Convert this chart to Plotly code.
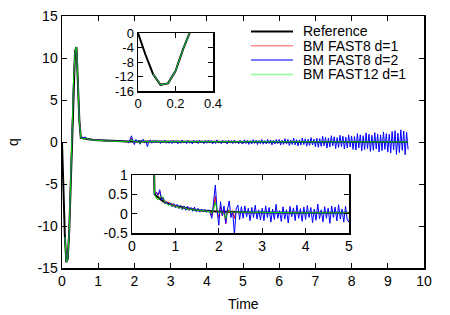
import plotly.graph_objects as go

# ---------------- data (sampled every DT in time, starting at t=0) ----------------
DT = 0.04
NAMES = ["Reference", "BM FAST8 d=1", "BM FAST8 d=2", "BM FAST12 d=1"]

REF_0 = [0, -6.0, -11.3, -14.3, -13.9, -10.5, -4.5, 1.8, 7.5, 10.8, 11.3, 7.0, 2.5, 0.50, 0.46,
         0.42, 0.38, 0.35, 0.32, 0.30, 0.28, 0.26, 0.24, 0.23, 0.21]
REF_1 = [0.20, 0.19, 0.18, 0.17, 0.16, 0.15, 0.14, 0.13, 0.12, 0.11, 0.105, 0.10, 0.095, 0.09, 0.085,
         0.08, 0.077, 0.074, 0.071, 0.068, 0.065, 0.062, 0.06, 0.058, 0.056]
REF_2 = [0.054, 0.052, 0.05, 0.049, 0.048, 0.047, 0.046, 0.045, 0.044, 0.043, 0.042, 0.041, 0.04, 0.039, 0.038,
         0.037, 0.036, 0.035, 0.034, 0.033, 0.032, 0.031, 0.03, 0.03, 0.03]
REF_3 = [0.03, 0.03, 0.03, 0.03, 0.03, 0.028, 0.028, 0.028, 0.028, 0.028, 0.026, 0.026, 0.026, 0.026, 0.026,
         0.025, 0.025, 0.025, 0.025, 0.025, 0.024, 0.024, 0.024, 0.024, 0.024]
REF_4 = [0.023, 0.023, 0.023, 0.023, 0.023, 0.022, 0.022, 0.022, 0.022, 0.022, 0.021, 0.021, 0.021, 0.021, 0.021,
         0.02, 0.02, 0.02, 0.02, 0.02, 0.02, 0.02, 0.02, 0.02, 0.02]
REF_5 = [0.019, 0.019, 0.019, 0.019, 0.019, 0.018, 0.018, 0.018, 0.018, 0.018, 0.017, 0.017, 0.017, 0.017, 0.017,
         0.016, 0.016, 0.016, 0.016, 0.016, 0.015, 0.015, 0.015, 0.015, 0.015]
REF_6 = [0.015, 0.015, 0.015, 0.015, 0.015, 0.014, 0.014, 0.014, 0.014, 0.014, 0.014, 0.014, 0.014, 0.014, 0.014,
         0.013, 0.013, 0.013, 0.013, 0.013, 0.013, 0.013, 0.013, 0.013, 0.013]
REF_7 = [0.012, 0.012, 0.012, 0.012, 0.012, 0.012, 0.012, 0.012, 0.012, 0.012, 0.012, 0.012, 0.012, 0.012, 0.012,
         0.011, 0.011, 0.011, 0.011, 0.011, 0.011, 0.011, 0.011, 0.011, 0.011]
REF_8 = [0.011, 0.011, 0.011, 0.011, 0.011, 0.011, 0.011, 0.011, 0.011, 0.011, 0.01, 0.01, 0.01, 0.01, 0.01,
         0.01, 0.01, 0.01, 0.01, 0.01, 0.01, 0.01, 0.01, 0.01, 0.01]
REF_9 = [0.01, 0.01, 0.01, 0.01, 0.01, 0.01, 0.01, 0.01, 0.01, 0.01, 0.01, 0.01, 0.01, 0.01, 0.01]

# BM FAST8 d=1 (red): first output at t=0.08; follows the reference after t~2.6
RED_0 = [None, None, -11.3, -14.3, -13.9, -10.5, -4.5, 1.8, 7.5, 10.8, 11.3, 7.0, 2.5, 0.50, 0.56,
         0.48, 0.55, 0.40, 0.36, 0.34, 0.29, 0.30, 0.24, 0.25, 0.20]
RED_1 = [0.22, 0.17, 0.19, 0.15, 0.17, 0.13, 0.15, 0.12, 0.13, 0.10, 0.12, 0.09, 0.10, 0.08, 0.09,
         0.07, 0.08, 0.06, 0.07, 0.05, 0.06, -0.05, 0.15, 0.45, 0.05]
RED_2 = [-0.10, 0.18, -0.05, 0.10, -0.26, 0.12, 0.06, -0.02, 0.08, -0.12, 0.06, 0.02, 0.05, 0.03, 0.04,
         0.037, 0.036, 0.035, 0.034, 0.033, 0.032, 0.031, 0.03, 0.03, 0.03]

# BM FAST8 d=2 (blue): noisy, growing oscillation
BLUE_0 = [None, None, -11.3, -14.3, -13.9, -10.5, -4.5, 1.8, 7.5, 10.8, 11.3, 7.0, 2.5, 0.50, 0.55,
          0.48, 0.62, 0.35, 0.42, 0.25, 0.30, 0.22, 0.28, 0.18, 0.26]
BLUE_1 = [0.15, 0.24, 0.13, 0.22, 0.10, 0.20, 0.09, 0.19, 0.08, 0.16, 0.06, 0.17, 0.05, 0.14, 0.04,
          0.12, 0.05, 0.11, 0.03, 0.10, 0.02, -0.12, 0.30, 0.74, 0.10]
BLUE_2 = [-0.30, 0.31, -0.05, 0.20, -0.25, 0.10, 0.33, -0.10, 0.05, -0.55, 0.12, 0.22, -0.15, 0.18, -0.12,
          0.20, -0.08, 0.14, -0.18, 0.16, -0.10, 0.22, -0.14, 0.10, -0.16]
BLUE_3 = [0.14, -0.18, 0.20, -0.10, 0.16, -0.22, 0.12, -0.15, 0.24, -0.12, 0.08, -0.20, 0.18, -0.14, 0.10,
          -0.24, 0.19, -0.08, 0.15, -0.18, 0.22, -0.12, 0.13, -0.20, 0.17]
BLUE_4 = [-0.15, 0.21, -0.10, 0.16, -0.23, 0.12, -0.17, 0.25, -0.13, 0.10, -0.21, 0.18, -0.12, 0.14, -0.25,
          0.20, -0.10, 0.17, -0.19, 0.23, -0.14, 0.12, -0.22, 0.19, -0.16]
BLUE_5 = [-0.22, 0.26, -0.18, 0.20, -0.28, 0.15, -0.24, 0.28, -0.16, 0.22, -0.30, 0.18, -0.20, 0.30, -0.26,
          0.16, -0.22, 0.32, -0.18, 0.24, -0.34, 0.20, -0.25, 0.30, -0.20]
BLUE_6 = [0.30, -0.36, 0.22, -0.28, 0.40, -0.25, 0.33, -0.42, 0.24, -0.30, 0.45, -0.34, 0.28, -0.46, 0.26,
          -0.36, 0.48, -0.30, 0.38, -0.50, 0.32, -0.40, 0.52, -0.36, 0.35]
BLUE_7 = [-0.55, 0.45, -0.62, 0.40, -0.52, 0.68, -0.45, 0.55, -0.72, 0.48, -0.58, 0.75, -0.46, 0.62, -0.78,
          0.52, -0.65, 0.80, -0.55, 0.68, -0.82, 0.58, -0.70, 0.85, -0.60]
BLUE_8 = [0.72, -0.88, 0.65, -0.95, 1.00, -0.70, 0.85, -1.05, 0.75, -0.90, 1.08, -0.78, 0.92, -1.12, 0.80,
          -0.98, 1.12, -0.82, 0.95, -1.18, 0.85, -1.02, 1.20, -0.88, 1.00]
BLUE_9 = [-1.20, 0.92, -1.30, 1.25, -0.95, 1.35, -1.48, 1.05, -1.25, 1.45, -1.00, 1.30, -1.52, 1.15, -0.90]

# BM FAST12 d=1 (green): first output at t=0.08; follows the reference after t~2.4
GREEN_0 = [None, None, -11.3, -14.3, -13.9, -10.5, -4.5, 1.8, 7.5, 10.8, 11.3, 7.0, 2.5, 0.50, 0.40,
           0.36, 0.42, 0.46, 0.40, 0.28, 0.26, 0.22, 0.24, 0.20, 0.22]
GREEN_1 = [0.18, 0.20, 0.14, 0.18, 0.12, 0.16, 0.13, 0.12, 0.11, 0.12, 0.10, 0.10, 0.09, 0.09, 0.08,
           0.08, 0.07, 0.07, 0.06, 0.06, 0.05, 0.02, 0.12, 0.30, 0.10]
GREEN_2 = [0.02, 0.06, 0.03, -0.02, -0.12, 0.04, 0.08, 0.02, 0.05, 0.03, 0.042, 0.041, 0.04, 0.039, 0.038,
           0.037, 0.036, 0.035, 0.034, 0.033, 0.032, 0.031, 0.03, 0.03, 0.03]

REF_TAIL = REF_3 + REF_4 + REF_5 + REF_6 + REF_7 + REF_8 + REF_9
REF = REF_0 + REF_1 + REF_2 + REF_TAIL
RED = RED_0 + RED_1 + RED_2 + REF_TAIL
BLUE = BLUE_0 + BLUE_1 + BLUE_2 + BLUE_3 + BLUE_4 + BLUE_5 + BLUE_6 + BLUE_7 + BLUE_8 + BLUE_9
GREEN = GREEN_0 + GREEN_1 + GREEN_2 + REF_TAIL
SERIES = [REF, RED, BLUE, GREEN]

# the lower inset only shows the samples from t = 0.48 on
INSET2_FIRST = 12

MAIN_XTICKS = [0, 1, 2, 3, 4, 5, 6, 7, 8, 9, 10]
MAIN_YTICKS = [-15, -10, -5, 0, 5, 10, 15]
IN1_XTICKS = [0, 0.2, 0.4]
IN1_YTICKS = [-16, -12, -8, -4, 0]
IN2_XTICKS = [0, 1, 2, 3, 4, 5]
IN2_YTICKS = [-0.5, 0, 0.5, 1]


def lab(v):
    return ("%g" % v)


# ---------------- styling ----------------
W, H = 450, 315
COLORS = ["#000000", "#ff0000", "#0000ff", "#00cc00"]
WIDTHS = [2, 1, 1, 1]
LEG_COLORS = ["#000000", "#ff9090", "#5050ff", "#90ff90"]
FONT = "Liberation Sans, Arial, sans-serif"


def px_dom_x(a, b):
    return [a / W, b / W]


def px_dom_y(top, bottom):
    return [1 - bottom / H, 1 - top / H]


fig = go.Figure()
for k, (xa, ya) in enumerate([("x", "y"), ("x2", "y2"), ("x3", "y3")]):
    first = INSET2_FIRST if k == 2 else 0
    for name, vals, col, w in zip(NAMES, SERIES, COLORS, WIDTHS):
        fig.add_trace(go.Scatter(y=vals[first:], x0=first * DT, dx=DT, mode="lines", name=name,
                                 line=dict(color=col, width=w), xaxis=xa, yaxis=ya,
                                 showlegend=False, hoverinfo="skip"))


def axis(dom, rng, ticks, size, anchor, lw=1.5):
    return dict(domain=dom, range=rng, tickvals=ticks, ticktext=[lab(t) for t in ticks],
                ticks="inside", ticklen=5, tickwidth=1, tickcolor="black",
                mirror="allticks", showline=True, linecolor="black", linewidth=lw,
                showgrid=False, zeroline=False, anchor=anchor, automargin=False,
                tickfont=dict(size=size, color="black", family=FONT))


fig.update_layout(
    width=W, height=H, margin=dict(l=0, r=0, t=0, b=0, pad=0, autoexpand=False),
    paper_bgcolor="white", plot_bgcolor="white",
    showlegend=False,
    font=dict(family=FONT, color="black"),
    xaxis=axis(px_dom_x(62, 424), [0, 10], MAIN_XTICKS, 14, "y"),
    yaxis=axis(px_dom_y(16, 268), [-15, 15], MAIN_YTICKS, 14, "x"),
    xaxis2=axis(px_dom_x(138, 213), [0, 0.4], IN1_XTICKS, 13, "y2"),
    yaxis2=axis(px_dom_y(33, 91), [-16, 0], IN1_YTICKS, 13, "x2"),
    xaxis3=axis(px_dom_x(132, 349), [0, 5], IN2_XTICKS, 14, "y3"),
    yaxis3=axis(px_dom_y(175, 233), [-0.5, 1], IN2_YTICKS, 14, "x3"),
)

ann = [
    dict(text="Time", x=243 / W, y=1 - 304 / H, xref="paper", yref="paper", showarrow=False,
         xanchor="center", yanchor="middle", font=dict(size=14, color="black", family=FONT)),
    dict(text="q", x=13 / W, y=1 - 142 / H, xref="paper", yref="paper", showarrow=False,
         textangle=-90, xanchor="center", yanchor="middle", font=dict(size=14, color="black", family=FONT)),
]
shapes = []
for i, (name, col, w) in enumerate(zip(NAMES, LEG_COLORS, [2, 1.5, 1.5, 1.5])):
    yy = 1 - (31.5 + i * 14.3) / H
    shapes.append(dict(type="line", xref="paper", yref="paper", x0=251 / W, x1=293 / W, y0=yy, y1=yy,
                       line=dict(color=col, width=w)))
    ann.append(dict(text=name, x=302 / W, y=yy, xref="paper", yref="paper", showarrow=False,
                    xanchor="left", yanchor="middle", height=12, borderpad=0,
                    font=dict(size=14, color="black", family=FONT)))
fig.update_layout(annotations=ann, shapes=shapes)

fig.write_html("out.html", config={"responsive": False, "displayModeBar": False, "staticPlot": True},
               post_script="document.body.style.margin='0px';document.body.style.overflow='hidden';")
